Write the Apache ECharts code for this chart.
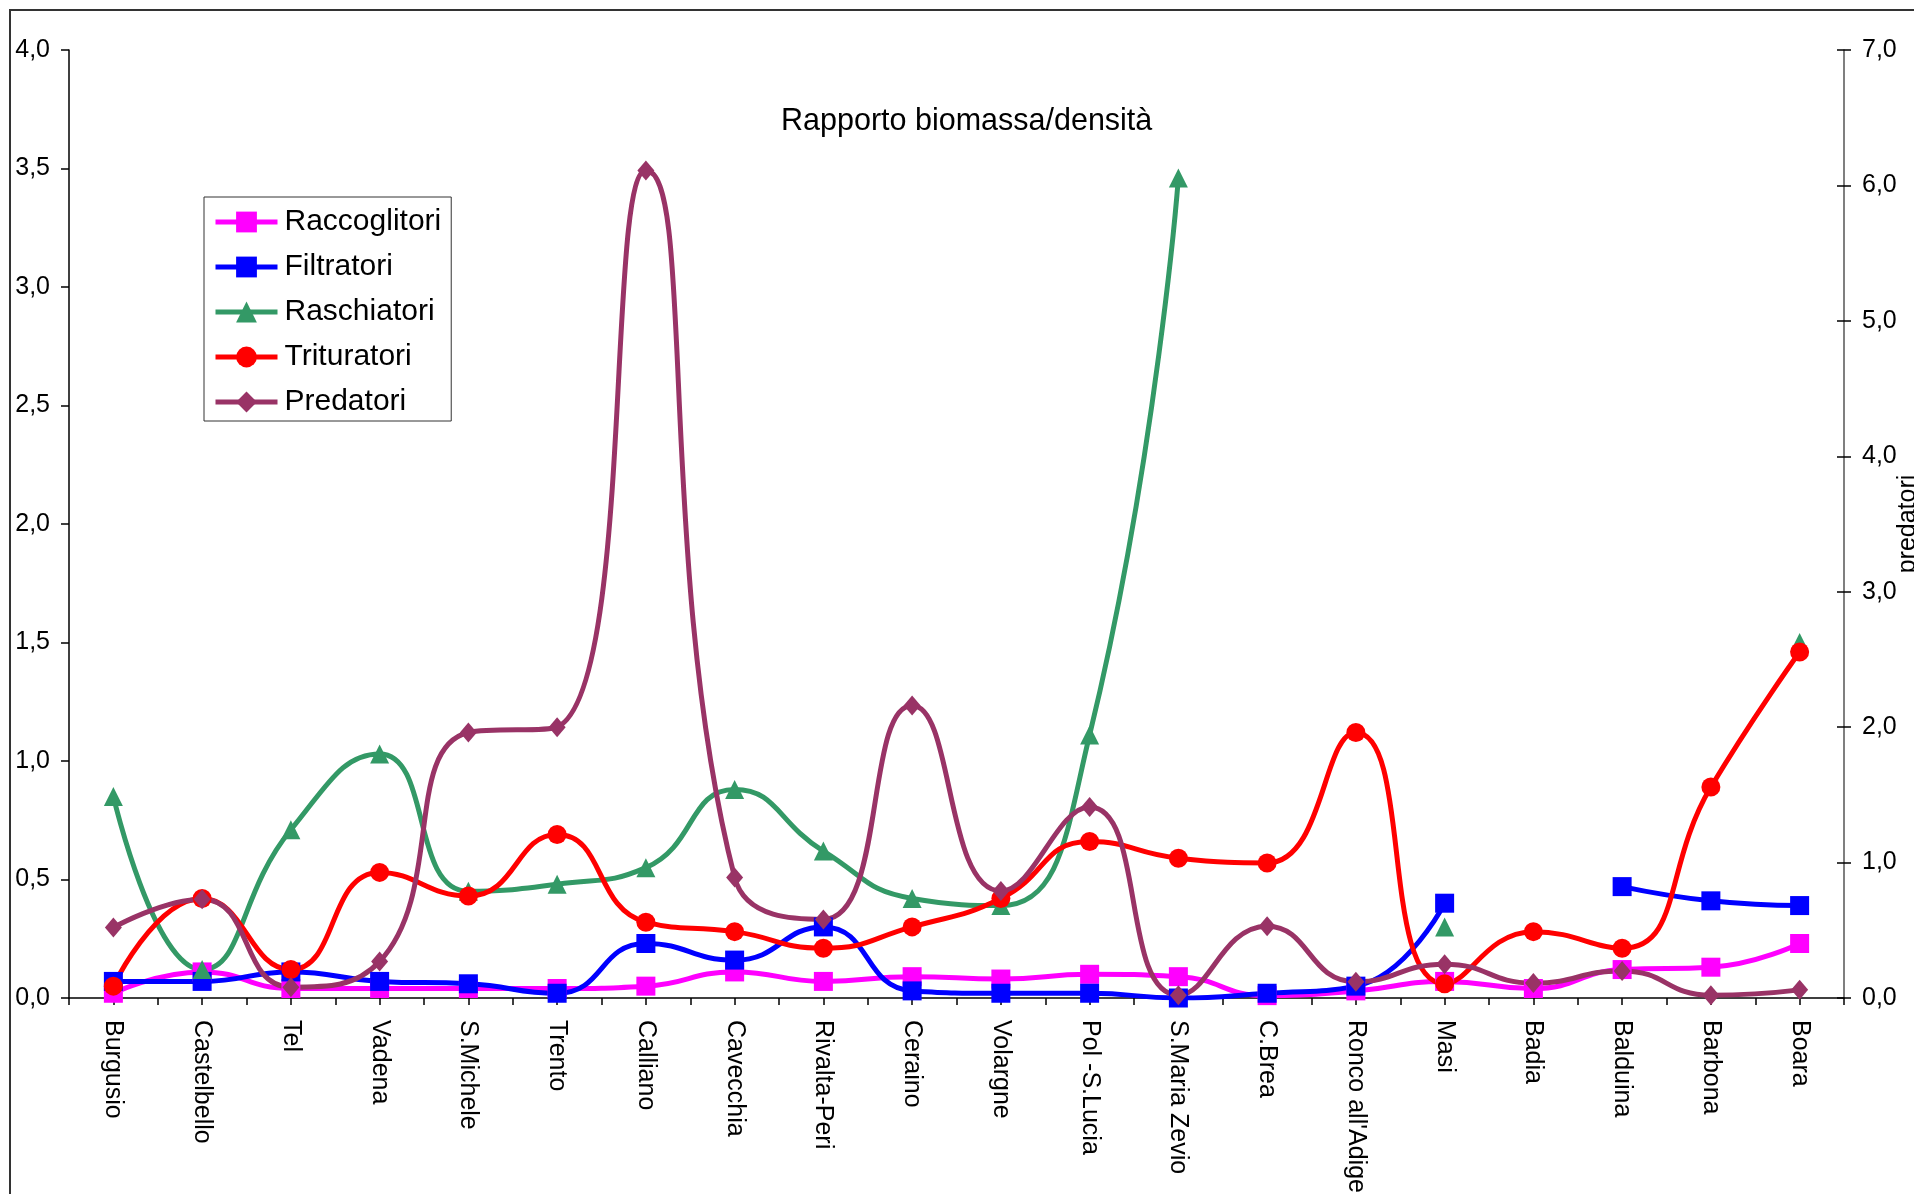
<!DOCTYPE html>
<html>
<head>
<meta charset="utf-8">
<script src="https://cdn.jsdelivr.net/npm/echarts@6/dist/echarts.min.js"></script>
<style>
  html, body { margin: 0; padding: 0; background: #ffffff; }
  #chart { width: 1914px; height: 1194px; }
</style>
</head>
<body>
<div id="chart"></div>
<script>
// Sampling stations along the river, upstream to downstream
const stations = ['Burgusio', 'Castelbello', 'Tel', 'Vadena', 'S.Michele', 'Trento', 'Calliano',
  'Cavecchia', 'Rivalta-Peri', 'Ceraino', 'Volargne', 'Pol -S.Lucia', 'S.Maria Zevio', 'C.Brea',
  "Ronco all'Adige", 'Masi', 'Badia', 'Balduina', 'Barbona', 'Boara'];

// Biomass/density ratio per functional feeding group (left axis)
const raccoglitori = [0.02, 0.11, 0.04, 0.04, 0.04, 0.04, 0.05, 0.11, 0.07, 0.09, 0.08, 0.10, 0.09, 0.01, 0.03, 0.07, 0.04, 0.12, 0.13, 0.23];
const filtratori   = [0.07, 0.07, 0.11, 0.07, 0.06, 0.02, 0.23, 0.16, 0.30, 0.03, 0.02, 0.02, 0.00, 0.02, 0.05, 0.40, null, 0.47, 0.41, 0.39];
const raschiatori  = [0.85, 0.12, 0.71, 1.03, 0.45, 0.48, 0.55, 0.88, 0.62, 0.42, 0.39, 1.11, 3.46, null, null, 0.30, null, null, null, 1.50];
const trituratori  = [0.05, 0.42, 0.12, 0.53, 0.43, 0.69, 0.32, 0.28, 0.21, 0.30, 0.42, 0.66, 0.59, 0.57, 1.12, 0.06, 0.28, 0.21, 0.89, 1.46];
// Predators use the secondary (right) axis
const predatori    = [0.52, 0.73, 0.08, 0.27, 1.96, 2.00, 6.11, 0.89, 0.58, 2.16, 0.79, 1.41, 0.02, 0.53, 0.12, 0.25, 0.11, 0.20, 0.02, 0.06];

// Axis ranges
const leftAxisRange = { min: 0, max: 4, interval: 0.5 };
const rightAxisRange = { min: 0, max: 7, interval: 1 };

const FONT = '"Liberation Sans", Arial, sans-serif';
const comma = v => v.toFixed(1).replace('.', ',');

const chart = echarts.init(document.getElementById('chart'), null, { renderer: 'canvas' });

function lineSeries(name, data, color, symbol, size, axis) {
  return {
    name: name,
    type: 'line',
    data: data,
    yAxisIndex: axis,
    smooth: 0.5,
    connectNulls: false,
    symbol: symbol,
    symbolSize: size,
    showSymbol: true,
    lineStyle: { color: color, width: 5 },
    itemStyle: { color: color },
    emphasis: { disabled: true }
  };
}

const option = {
  animation: false,
  backgroundColor: '#ffffff',
  textStyle: { fontFamily: FONT, color: '#000' },
  title: {
    text: 'Rapporto biomassa/densità',
    left: 781,
    top: 106,
    padding: 0,
    textStyle: { fontFamily: FONT, fontSize: 30.5, fontWeight: 'normal', color: '#000' }
  },
  legend: {
    orient: 'vertical',
    left: 204,
    top: 197,
    padding: [10, 10, 4, 9],
    itemWidth: 62,
    itemHeight: 26,
    itemGap: 15,
    borderColor: '#333',
    borderWidth: 1,
    backgroundColor: '#fff',
    lineStyle: { width: 5 },
    textStyle: { fontFamily: FONT, fontSize: 30, color: '#000', padding: [0, 0, 0, 2] },
    data: ['Raccoglitori', 'Filtratori', 'Raschiatori', 'Trituratori', 'Predatori']
  },
  graphic: [{
    type: 'rect',
    shape: { x: 10, y: 10, width: 1920, height: 1200 },
    style: { fill: 'none', stroke: '#333', lineWidth: 2 },
    silent: true,
    z: 100
  }],
  grid: { left: 69, right: 70, top: 50, bottom: 196, containLabel: false, outerBoundsMode: 'none' },
  xAxis: [{
    type: 'category',
    position: 'bottom',
    data: stations,
    boundaryGap: true,
    axisLine: { show: true, lineStyle: { color: '#000', width: 1.5 } },
    axisTick: { show: true, alignWithLabel: false, interval: 0, length: 7, lineStyle: { color: '#000', width: 1.5 } },
    axisLabel: { interval: 0, rotate: -90, margin: 22, fontFamily: FONT, fontSize: 25, color: '#000' },
    splitLine: { show: false }
  }, {
    // secondary tick marks under each station
    type: 'category',
    position: 'bottom',
    data: stations,
    boundaryGap: true,
    axisLine: { show: false },
    axisTick: { show: true, alignWithLabel: true, interval: 0, length: 7, lineStyle: { color: '#000', width: 1.5 } },
    axisLabel: { show: false },
    splitLine: { show: false }
  }],
  yAxis: [{
    type: 'value',
    position: 'left',
    min: leftAxisRange.min, max: leftAxisRange.max, interval: leftAxisRange.interval,
    axisLine: { show: true, lineStyle: { color: '#000', width: 1.5 } },
    axisTick: { show: true, length: 8, lineStyle: { color: '#000', width: 1.5 } },
    axisLabel: { formatter: comma, margin: 19, fontFamily: FONT, fontSize: 25, color: '#000' },
    splitLine: { show: false }
  }, {
    type: 'value',
    position: 'right',
    min: rightAxisRange.min, max: rightAxisRange.max, interval: rightAxisRange.interval,
    name: 'predatori',
    nameLocation: 'middle',
    nameRotate: 90,
    nameGap: 52,
    nameMoveOverlap: false,
    nameTextStyle: { fontFamily: FONT, fontSize: 25, color: '#000' },
    axisLine: { show: true, lineStyle: { color: '#555', width: 1.5 } },
    axisTick: { show: true, length: 7, lineStyle: { color: '#000', width: 1.5 } },
    axisLabel: { formatter: comma, margin: 18, fontFamily: FONT, fontSize: 25, color: '#000' },
    splitLine: { show: false }
  }, {
    // inner half of the crossing ticks on the secondary axis
    type: 'value',
    position: 'right',
    min: rightAxisRange.min, max: rightAxisRange.max, interval: rightAxisRange.interval,
    axisLine: { show: false },
    axisTick: { show: true, inside: true, length: 7, lineStyle: { color: '#000', width: 1.5 } },
    axisLabel: { show: false },
    splitLine: { show: false }
  }],
  series: [
    lineSeries('Raccoglitori', raccoglitori, '#ff00ff', 'rect', 19, 0),
    lineSeries('Filtratori', filtratori, '#0000ff', 'rect', 19, 0),
    lineSeries('Raschiatori', raschiatori, '#339966', 'triangle', 19, 0),
    lineSeries('Trituratori', trituratori, '#ff0000', 'circle', 19, 0),
    lineSeries('Predatori', predatori, '#993366', 'diamond', [17, 20], 1)
  ]
};

chart.setOption(option);
</script>
</body>
</html>
